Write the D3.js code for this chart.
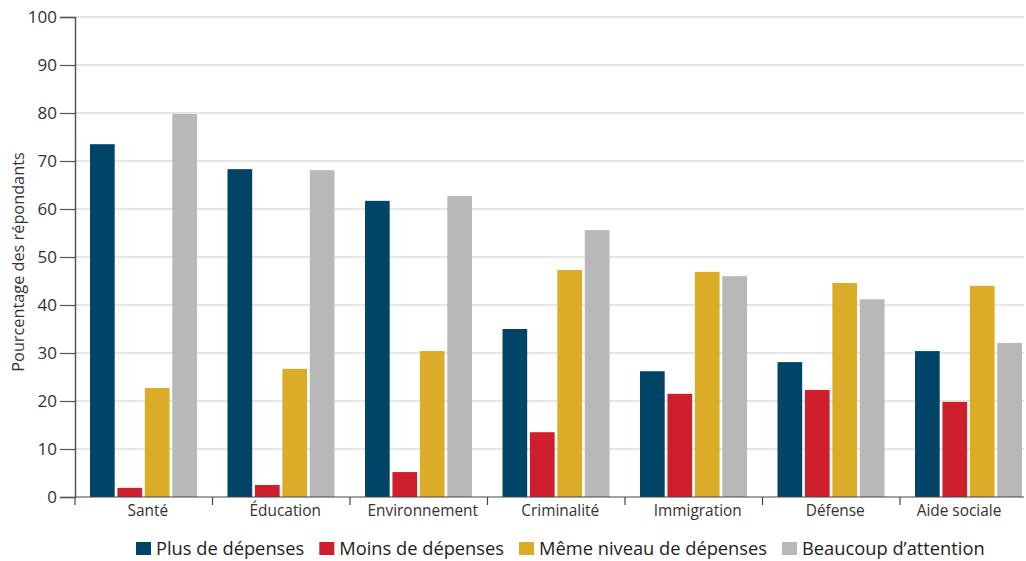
<!DOCTYPE html>
<html>
<head>
<meta charset="utf-8">
<script src="https://cdn.jsdelivr.net/npm/d3@7"></script>
<style>
  html, body { margin: 0; padding: 0; background: #fff; }
  svg { display: block; font-family: "Open Sans", Lato, sans-serif; }
</style>
</head>
<body>
<svg id="chart" width="1026" height="561"></svg>
<script>
// Catégories et séries
const categories = ["Santé", "Éducation", "Environnement", "Criminalité", "Immigration", "Défense", "Aide sociale"];
const seriesNames = ["Plus de dépenses", "Moins de dépenses", "Même niveau de dépenses", "Beaucoup d’attention"];
const plusDepenses   = [73.5, 68.3, 61.7, 35.0, 26.2, 28.1, 30.4];
const moinsDepenses  = [1.9, 2.5, 5.2, 13.5, 21.5, 22.3, 19.8];
const memeNiveau     = [22.7, 26.7, 30.4, 47.3, 46.9, 44.6, 44.0];
const beaucoupAttention = [79.8, 68.1, 62.7, 55.6, 46.0, 41.2, 32.1];
const yTicks = [0, 10, 20, 30, 40, 50, 60, 70, 80, 90, 100];
const colors = ["#004568", "#d01f2c", "#dbac27", "#b8b8b8"];

const series = [plusDepenses, moinsDepenses, memeNiveau, beaucoupAttention];

const svg = d3.select("#chart");
const H = 561;
const mLeft = 75, mTop = 17, mBottom = 497, plotRight = 1024;
const bandW = 137.5;

const x = d3.scaleBand()
  .domain(categories)
  .range([mLeft, mLeft + bandW * categories.length])
  .paddingInner(0).paddingOuter(0);

const xInner = d3.scaleBand()
  .domain(d3.range(series.length))
  .range([15, bandW - 15.5])
  .paddingInner(0.1);

const y = d3.scaleLinear().domain([0, 100]).range([mBottom, mTop]);

svg.append("defs").append("clipPath").attr("id", "clip")
  .append("rect").attr("x", 0).attr("y", 0).attr("width", plotRight).attr("height", H);

const plot = svg.append("g").attr("clip-path", "url(#clip)");

// Grille horizontale
plot.append("g")
  .selectAll("line")
  .data(yTicks.filter(d => d > 0))
  .join("line")
  .attr("x1", mLeft).attr("x2", plotRight)
  .attr("y1", d => y(d)).attr("y2", d => y(d))
  .attr("stroke", "#dedede").attr("stroke-width", 1.6);

// Barres
categories.forEach((c, i) => {
  const g = plot.append("g").attr("transform", `translate(${x(c)},0)`);
  g.selectAll("rect")
    .data(series.map((s, k) => ({ k, v: s[i] })))
    .join("rect")
    .attr("x", d => xInner(d.k))
    .attr("width", xInner.bandwidth())
    .attr("y", d => y(d.v))
    .attr("height", d => y(0) - y(d.v))
    .attr("fill", d => colors[d.k]);
});

// Axe X
const xAxis = plot.append("g");
xAxis.append("line")
  .attr("x1", mLeft).attr("x2", plotRight)
  .attr("y1", mBottom).attr("y2", mBottom)
  .attr("stroke", "#444").attr("stroke-width", 1.2);
xAxis.selectAll("line.tick")
  .data(d3.range(categories.length + 1))
  .join("line").attr("class", "tick")
  .attr("x1", d => mLeft + d * bandW).attr("x2", d => mLeft + d * bandW)
  .attr("y1", mBottom).attr("y2", mBottom + 8)
  .attr("stroke", "#444").attr("stroke-width", 1.2);

svg.append("g").selectAll("text")
  .data(categories)
  .join("text")
  .attr("x", d => Math.min(x(d) + bandW / 2 + 4, 959))
  .attr("y", 516)
  .attr("text-anchor", "middle")
  .attr("font-size", 15.4)
  .attr("fill", "#333")
  .text(d => d);

// Axe Y
const yAxis = svg.append("g").attr("transform", `translate(${mLeft},0)`)
  .call(d3.axisLeft(y).tickValues(yTicks).tickSize(15).tickPadding(3));
yAxis.select(".domain").attr("stroke", "#555").attr("stroke-width", 1.5);
yAxis.selectAll(".tick line").attr("stroke", "#555").attr("stroke-width", 1.2);
yAxis.selectAll(".tick text").attr("font-size", 17).attr("fill", "#333")
  .attr("font-family", "'Open Sans', sans-serif");

svg.append("text")
  .attr("transform", `translate(24,262) rotate(-90)`)
  .attr("text-anchor", "middle")
  .attr("font-size", 16.3)
  .attr("fill", "#333")
  .text("Pourcentage des répondants");

// Légende
const legend = svg.append("g").attr("transform", "translate(0,548)");
let lx = 136;
seriesNames.forEach((name, k) => {
  const item = legend.append("g").attr("transform", `translate(${lx},0)`);
  item.append("rect").attr("x", 0).attr("y", -6).attr("width", 15).attr("height", 13)
    .attr("fill", colors[k]);
  const t = item.append("text").attr("x", 20).attr("y", 6.5)
    .attr("font-size", 18.3).attr("fill", "#222").text(name);
  lx += 20 + t.node().getComputedTextLength() + 15;
});
</script>
</body>
</html>
